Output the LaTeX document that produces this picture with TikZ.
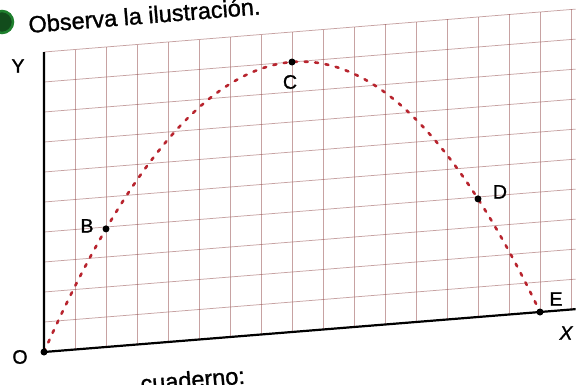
\documentclass[tikz,border=0pt]{standalone}
\usepackage{fontspec}
\setmainfont{Liberation Sans}
\newfontfamily\medfont{Liberation Sans}[FakeBold=1.2]
\usetikzlibrary{calc}
\definecolor{gridc}{rgb}{0.6,0.34,0.34}
\definecolor{curvec}{rgb}{0.72,0.14,0.18}
\definecolor{bulletg}{rgb}{0.12,0.5,0.18}
\begin{document}
\begin{tikzpicture}[x=1pt,y=1pt,
 gridline/.style={draw=gridc, draw opacity=0.55, line width=0.75pt},
 axis/.style={line width=2.2pt, black},
 curve/.style={draw=curvec, line width=2.6pt, dash pattern=on 3pt off 7.5pt, line cap=round},
 pt/.style={circle, fill=black, inner sep=0pt, minimum size=7pt},
 lbl/.style={font=\medfont\fontsize{19.5}{22}\selectfont, inner sep=0pt},
 head/.style={font=\medfont\fontsize{23.5}{26}\selectfont, inner sep=0pt, anchor=base west, rotate=4.6},
 ]
\fill[white] (0,0) rectangle (581,384);
\useasboundingbox (0,0) rectangle (581,384);
\begin{scope}[shift={(44,32)}, x={(31pt,2.5pt)}, y={(0pt,30pt)}]
 \foreach \i in {1,...,17} \draw[gridline] (\i,0) -- (\i,10);
 \foreach \j in {1,...,10} \draw[gridline] (0,\j) -- (17.15,\j);
 \draw[curve] plot[domain=0:16, samples=80, smooth] (\x,{9/64*\x*(16-\x)});
 \draw[axis] (0,10) -- (0,0) -- (17.15,0);
 \node[pt] (O) at (0,0) {};
 \node[pt] (B) at (2,{9/64*2*14}) {};
 \node[pt] (C) at (8,9) {};
 \node[pt] (D) at (14,{9/64*14*2}) {};
 \node[pt] (E) at (16,0) {};
 \coordinate (Ytop) at (0,10);
 \coordinate (Xend) at (17.15,0);
\end{scope}
\node[lbl] (lO) at ($(O.center)+(-24,-5)$) {O};
\node[lbl] (lB) at ($(B.center)+(-19,3)$) {B};
\node[lbl] (lC) at ($(C.center)+(-2,-20)$) {C};
\node[lbl] (lD) at ($(D.center)+(22,7)$) {D};
\node[lbl] (lE) at ($(E.center)+(16,13)$) {E};
\node[lbl] (lY) at (18,318) {Y};
\node[lbl] (lX) at (566,51) {\itshape X};
\node[circle, fill=bulletg!60!black, draw=bulletg, line width=2.5pt, minimum size=22pt, inner sep=0pt] (bullet) at (2,362) {};
\node[head] (title) at (29,351) {Observa la ilustración.};
\node[head] (foot) at (141,-8) {cuaderno:};
\end{tikzpicture}
\end{document}
